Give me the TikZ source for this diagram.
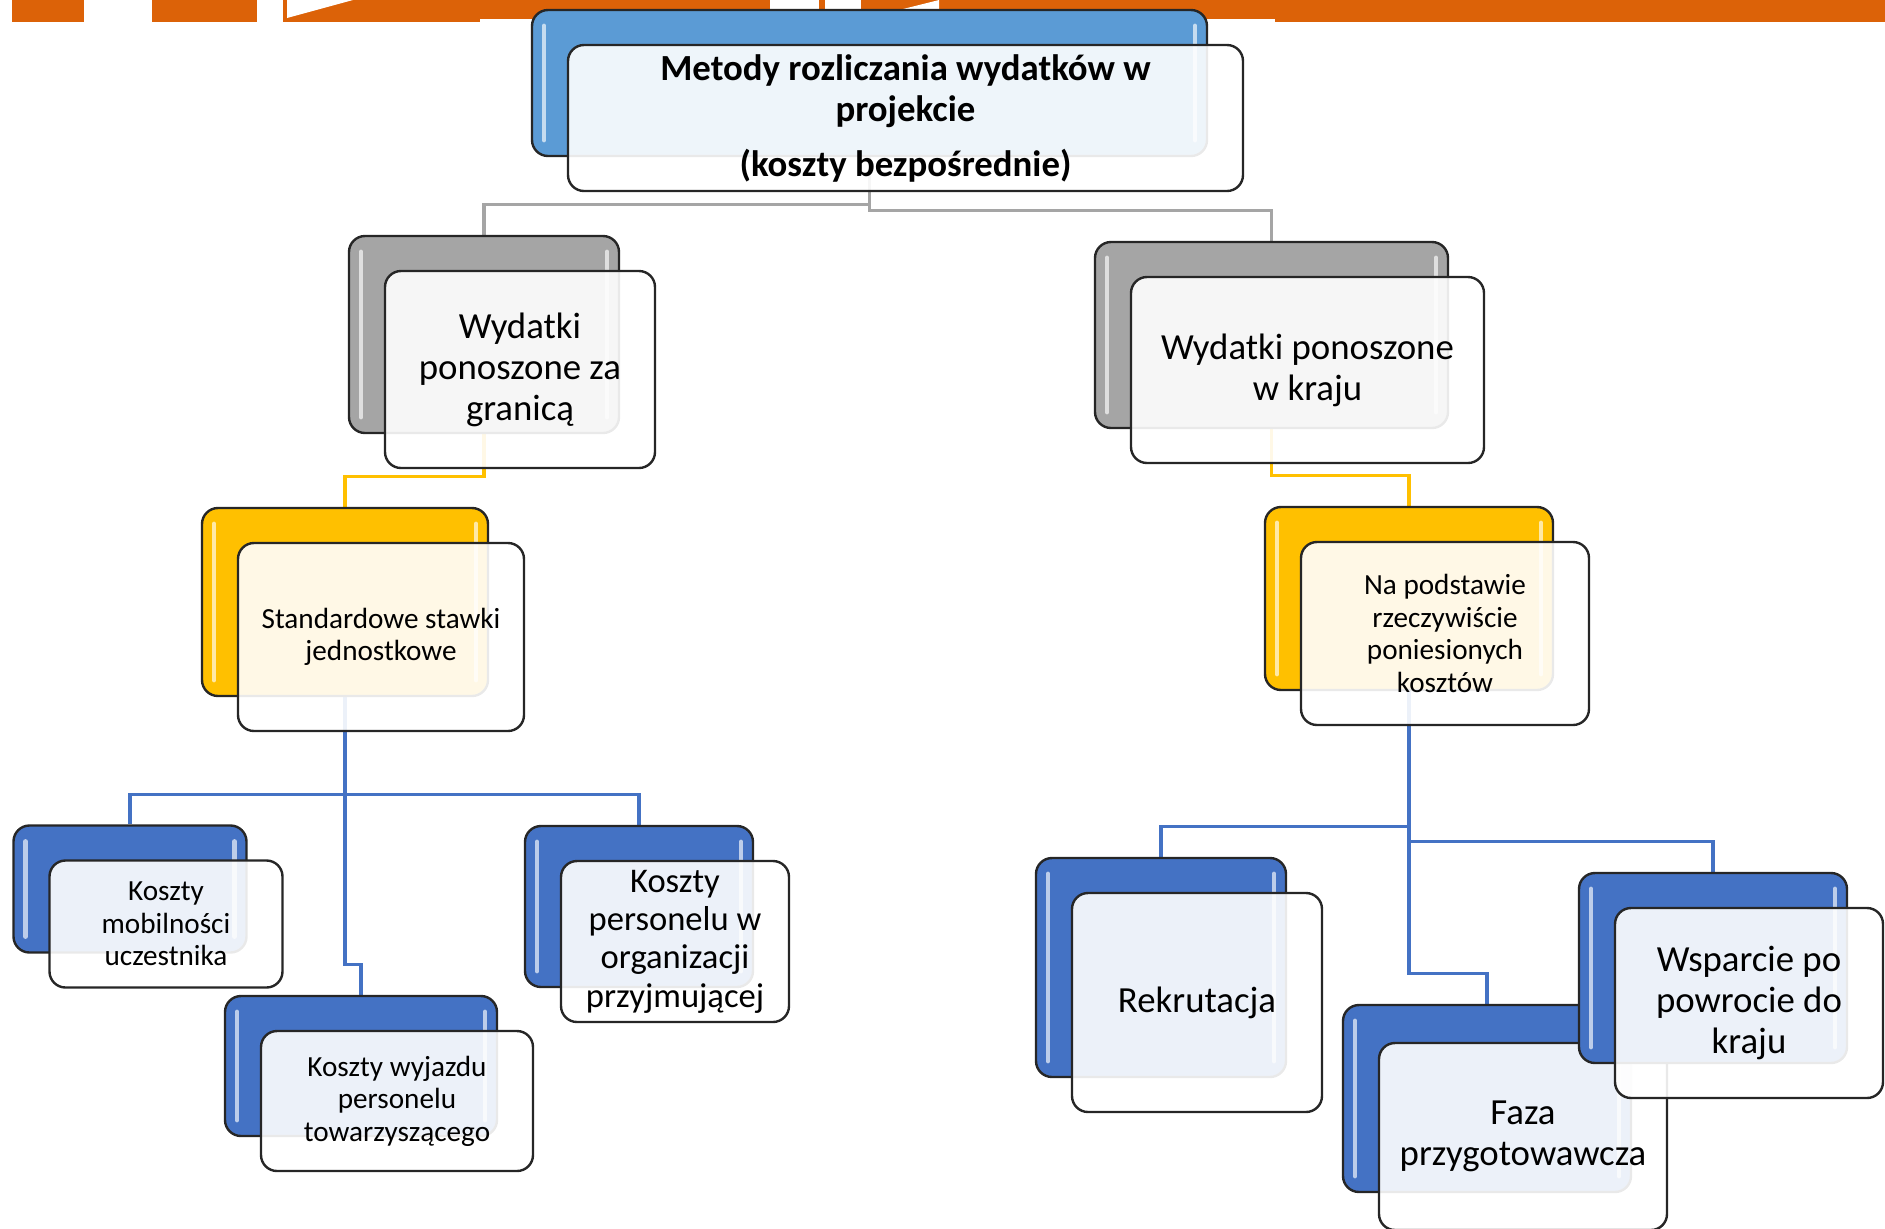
\documentclass[tikz,border=0pt]{standalone}
\usepackage{fontspec}
\setmainfont{Carlito}
\usetikzlibrary{positioning,calc,backgrounds}

\definecolor{bandor}{RGB}{220,98,8}
\definecolor{topblue}{RGB}{91,155,213}
\definecolor{midgray}{RGB}{165,165,165}
\definecolor{gold}{RGB}{255,192,0}
\definecolor{darkblue}{RGB}{68,114,196}

\newcommand{\bigtxt}{\fontsize{18.4}{20.5}\selectfont}
\newcommand{\midtxt}{\fontsize{17.3}{19.2}\selectfont}
\newcommand{\smalltxt}{\fontsize{14.6}{16.3}\selectfont}

\begin{document}
\begin{tikzpicture}[x=0.5pt,y=-0.5pt,
    back/.style={rectangle,rounded corners=8pt,draw=black!85,line width=1.2pt,inner sep=0pt,
      path picture={
        \draw[white,opacity=0.65,line width=2.4pt,line cap=round]
          ([xshift=6pt,yshift=-8pt]path picture bounding box.north west) --
          ([xshift=6pt,yshift=8pt]path picture bounding box.south west)
          ([xshift=-6pt,yshift=-8pt]path picture bounding box.north east) --
          ([xshift=-6pt,yshift=8pt]path picture bounding box.south east);}},
    front/.style={rectangle,rounded corners=8pt,draw=black!85,line width=1.2pt,inner sep=0pt,
      fill=white,fill opacity=0.9,text opacity=1,align=center},
    conn/.style={line width=1.6pt}]

\useasboundingbox (0,0) rectangle (1885,1228);

% Header band
\fill[bandor] (12,0) rectangle (1885,22);
\fill[white] (84,0) rectangle (152,22);
\fill[white] (257,0) rectangle (283,22);
\fill[white] (287,0) -- (353,0) -- (287,18) -- cycle;
\fill[white] (480,19) rectangle (1275,22);
\fill[white] (770,0) rectangle (819,10);
\fill[white] (825,0) rectangle (861,10);
\fill[white] (899,10) -- (939,0) -- (939,10) -- cycle;

% Level 0
\node[back,fill=topblue,minimum width=337.5pt,minimum height=73pt] (metB) at (869.5,83) {};
\node[front,minimum width=337.5pt,minimum height=73pt,font=\bigtxt\bfseries] (metF) at ($(metB)+(36,35)$)
  {Metody rozliczania wydatków w\\projekcie\\[7pt](koszty bezpośrednie)};

% Level 1
\node[back,fill=midgray,minimum width=135pt,minimum height=98.5pt] (granB) at (484,334.5) {};
\node[front,minimum width=135pt,minimum height=98.5pt,font=\bigtxt] (granF) at ($(granB)+(36,35)$)
  {Wydatki\\ponoszone za\\granicą};

\node[back,fill=midgray,minimum width=176.5pt,minimum height=93pt] (krajB) at (1271.5,335) {};
\node[front,minimum width=176.5pt,minimum height=93pt,font=\bigtxt] (krajF) at ($(krajB)+(36,35)$)
  {Wydatki ponoszone\\w kraju};

% Level 2
\node[back,fill=gold,minimum width=143pt,minimum height=94pt] (stawB) at (345,602) {};
\node[front,minimum width=143pt,minimum height=94pt,font=\smalltxt] (stawF) at ($(stawB)+(36,35)$)
  {Standardowe stawki\\jednostkowe};

\node[back,fill=gold,minimum width=144pt,minimum height=91.5pt] (rzeczB) at (1409,598.5) {};
\node[front,minimum width=144pt,minimum height=91.5pt,font=\smalltxt] (rzeczF) at ($(rzeczB)+(36,35)$)
  {Na podstawie\\rzeczywiście\\poniesionych\\kosztów};

% Level 3, left
\node[back,fill=darkblue,minimum width=116.5pt,minimum height=63.5pt] (mobB) at (130,889) {};
\node[front,minimum width=116.5pt,minimum height=63.5pt,font=\smalltxt] (mobF) at ($(mobB)+(36,35)$)
  {Koszty\\mobilności\\uczestnika};

\node[back,fill=darkblue,minimum width=136pt,minimum height=70pt] (wyjB) at (361,1066) {};
\node[front,minimum width=136pt,minimum height=70pt,font=\smalltxt] (wyjF) at ($(wyjB)+(36,35)$)
  {Koszty wyjazdu\\personelu\\towarzyszącego};

\node[back,fill=darkblue,minimum width=114pt,minimum height=80.5pt] (persB) at (639,906.5) {};
\node[front,minimum width=114pt,minimum height=80.5pt,font=\midtxt] (persF) at ($(persB)+(36,35)$)
  {Koszty\\personelu w\\organizacji\\przyjmującej};

% Level 3, right
\node[back,fill=darkblue,minimum width=125pt,minimum height=109.5pt] (rekB) at (1161,967.5) {};
\node[front,minimum width=125pt,minimum height=109.5pt,font=\bigtxt] (rekF) at ($(rekB)+(36,35)$)
  {Rekrutacja};

\node[back,fill=darkblue,minimum width=144pt,minimum height=93.5pt] (fazaB) at (1487,1098.5) {};
\node[front,minimum width=144pt,minimum height=93.5pt,font=\bigtxt] (fazaF) at ($(fazaB)+(36,38)$)
  {Faza\\przygotowawcza};

\node[back,fill=darkblue,minimum width=134pt,minimum height=95pt] (wspB) at (1713,968) {};
\node[front,minimum width=134pt,minimum height=95pt,font=\bigtxt] (wspF) at ($(wspB)+(36,35)$)
  {Wsparcie po\\powrocie do\\kraju};

% Connectors
\begin{scope}[on background layer]
\draw[conn,midgray] (metB.south) |- ($(granB.north)+(0,-30)$) -- (granB.north);
\draw[conn,midgray] (metB.south) |- ($(krajB.north)+(0,-30)$) -- (krajB.north);
\draw[conn,gold] (granB.south) |- ($(stawB.north)+(0,-30)$) -- (stawB.north);
\draw[conn,gold] (krajB.south) |- ($(rzeczB.north)+(0,-30)$) -- (rzeczB.north);
\draw[conn,darkblue] (stawB.south) |- ($(mobB.north)+(0,-30)$) -- (mobB.north);
\draw[conn,darkblue] (stawB.south) |- ($(wyjB.north)+(0,-30)$) -- (wyjB.north);
\draw[conn,darkblue] (stawB.south) |- ($(persB.north)+(0,-30)$) -- (persB.north);
\draw[conn,darkblue] (rzeczB.south) |- ($(rekB.north)+(0,-30)$) -- (rekB.north);
\draw[conn,darkblue] (rzeczB.south) |- ($(fazaB.north)+(0,-30)$) -- (fazaB.north);
\draw[conn,darkblue] (rzeczB.south) |- ($(wspB.north)+(0,-30)$) -- (wspB.north);
\end{scope}

\end{tikzpicture}
\end{document}
